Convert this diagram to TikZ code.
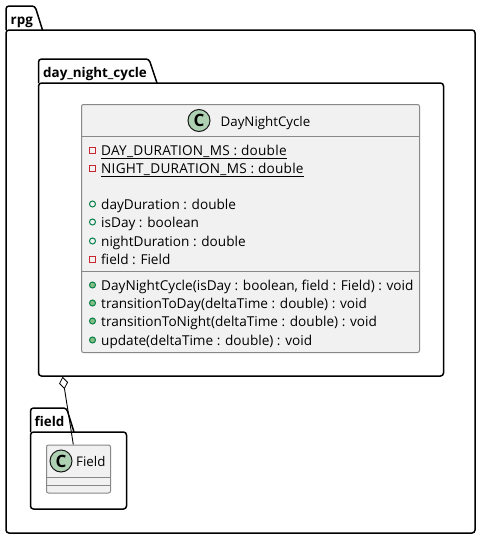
\documentclass[tikz,border=0pt]{standalone}
\usepackage{fontspec}
\setmainfont{Open Sans}
\usetikzlibrary{arrows.meta}
\definecolor{classfill}{HTML}{F1F1F1}
\definecolor{classline}{HTML}{888888}
\definecolor{spotfill}{HTML}{ADD1B2}
\definecolor{privatered}{HTML}{C82930}
\definecolor{publicgreen}{HTML}{038048}
\definecolor{methodfill}{HTML}{84BE84}
\newcommand{\capsrow}[1]{\underline{\addfontfeature{LetterSpace=1.9}#1}}
\tikzset{%
  package/.style={draw=black,line width=1.5pt,rounded corners=3pt,fill=white,inner sep=0pt,minimum width=#1},
  pkgtab/.style={draw=black,line width=1.5pt,rounded corners=3pt},
  pkgname/.style={anchor=base west,inner sep=0pt,font=\fontsize{13.4}{14}\selectfont\bfseries},
  umlclass/.style={draw=classline,line width=1pt,rounded corners=2pt,fill=classfill,inner sep=0pt},
  compartment/.style={draw=classline,line width=1pt},
  spot/.style={circle,draw=black!90,line width=1pt,fill=spotfill,minimum size=22pt,inner sep=0pt,font=\fontsize{17}{17}\selectfont\bfseries},
  member/.style={anchor=base west,inner sep=0pt,font=\fontsize{13.6}{14}\selectfont},
  classtitle/.style={anchor=base west,inner sep=0pt,font=\fontsize{13.3}{14}\selectfont},
  privatefield/.style={rectangle,draw=privatered,line width=1pt,minimum size=6pt,inner sep=0pt},
  publicfield/.style={circle,draw=publicgreen,line width=1pt,minimum size=6pt,inner sep=0pt},
  publicmethod/.style={circle,draw=publicgreen,line width=1pt,fill=methodfill,minimum size=6pt,inner sep=0pt},
  aggregation/.style={{Diamond[fill=white,length=12.5pt,width=9pt,line width=0.8pt]}-,draw=black,line width=0.9pt}
}

\begin{document}
\begin{tikzpicture}[x=1pt,y=-1pt]

    \useasboundingbox (0,0) rectangle (481,539);

    % outer package
    \draw[pkgtab] (6,30) -- (6,6) -- (35,6) -- (42.5,30);
    \node[package=469pt,minimum height=503pt] (rpg) at (240.5,281.5) {};
    \node[pkgname] (rpgName) at (10.5,24) {rpg};

    % inner package with the class
    \draw[pkgtab,fill=white] (38.5,83) -- (38.5,59) -- (149,59) -- (157,83);
    \node[package=405pt,minimum height=293pt] (cyclePkg) at (241,229.5) {};
    \node[pkgname] (cycleName) at (43,77) {day\_night\_cycle};

    \node[umlclass,minimum width=338pt,minimum height=248pt] (cycleClass) at (250.5,228.5) {};
    \draw[compartment] (81.5,136.5) -- (419.5,136.5);
    \draw[compartment] (81.5,271) -- (419.5,271);
    \node[spot] (cycleSpot) at (199,120.5) {C};
    \node[classtitle] (cycleTitle) at (220.5,126) {DayNightCycle};

    % members, by baseline
    \foreach \name/\ypos/\kind/\txt in {%
        a/150/privatefield/{\capsrow{DAY\_DURATION\_MS : double}},
        b/168/privatefield/{\capsrow{NIGHT\_DURATION\_MS : double}},
        c/204/publicfield/{dayDuration : double},
        d/222/publicfield/{isDay : boolean},
        e/241/publicfield/{nightDuration : double},
        f/259/privatefield/{field : Field},
        g/285/publicmethod/{DayNightCycle(isDay : boolean, field : Field) : void},
        h/303/publicmethod/{transitionToDay(deltaTime : double) : void},
        i/321/publicmethod/{transitionToNight(deltaTime : double) : void},
        j/340/publicmethod/{update(deltaTime : double) : void}} {
      \node[\kind] (icon\name) at (92.5,\ypos) {};
      \node[member] (member\name) at (101,\ypos+5) {\txt};
    }

    % lower package
    \draw[pkgtab,fill=white] (30.5,432) -- (30.5,408) -- (66.5,408) -- (74,432);
    \node[package=96pt,minimum height=77pt] (fieldPkg) at (78.5,470.5) {};
    \node[pkgname] (fieldName) at (34.5,426) {field};

    \node[umlclass,minimum width=64pt,minimum height=48pt] (fieldClass) at (78.5,469) {};
    \draw[compartment] (46.5,477) -- (110.5,477);
    \draw[compartment] (46.5,485) -- (110.5,485);
    \node[spot] (fieldSpot) at (61,461) {C};
    \node[classtitle] (fieldTitle) at (76,466) {Field};

    \draw[aggregation] ([xshift=-178.4pt]cyclePkg.south) -- ([xshift=-5.2pt]fieldClass.north);

\end{tikzpicture}
\end{document}
